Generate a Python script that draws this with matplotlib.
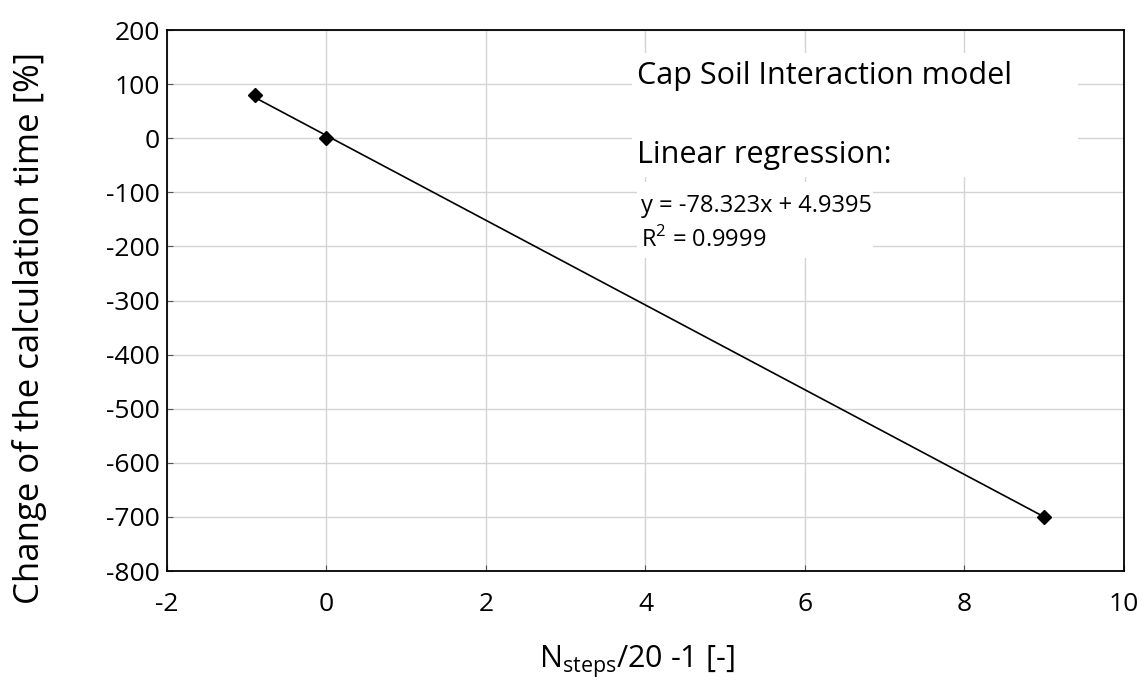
import matplotlib.pyplot as plt
from matplotlib.patches import Rectangle
import numpy as np

# relative change of step count vs. change of calculation time
x_steps = [-0.9, 0.0, 9.0]
time_change = [80.0, 0.0, -699.5]

# regression line coefficients
slope = -78.323
intercept = 4.9395
r2 = 0.9999

plt.rcParams["font.family"] = ["Open Sans", "DejaVu Sans"]
plt.rcParams["axes.unicode_minus"] = False

fig = plt.figure(figsize=(11.42, 6.84), dpi=100)
ax = fig.add_axes([0.1462, 0.1652, 0.8380, 0.7909])

xs = np.array([min(x_steps), max(x_steps)])
ax.plot(xs, slope * xs + intercept, color="black", linewidth=1.2, zorder=3)
ax.plot(x_steps, time_change, linestyle="none", marker="D", markersize=7,
        color="black", zorder=4)

ax.set_xlim(-2, 10)
ax.set_ylim(-800, 200)
ax.set_xticks(np.arange(-2, 11, 2))
ax.set_yticks(np.arange(-800, 201, 100))
ax.grid(True, color="#d4d4d4", linewidth=1)
ax.set_axisbelow(True)
ax.tick_params(direction="in", length=4, color="#555555", labelsize=19)
ax.tick_params(axis="x", pad=15)
ax.tick_params(axis="y", pad=5)
for s in ax.spines.values():
    s.set_linewidth(1.3)

ax.set_xlabel(r"N$_{\mathregular{steps}}$/20 -1 [-]", fontsize=22)
ax.xaxis.set_label_coords(0.491, -0.135)
ax.set_ylabel("Change of the calculation time [%]", fontsize=25)
ax.yaxis.set_label_coords(-0.125, 0.45)

# white boxes behind the annotations
ax.add_patch(Rectangle((3.83, -71.7), 9.42 - 3.83, 157.5 + 71.7,
                       facecolor="white", edgecolor="none", zorder=2))
ax.add_patch(Rectangle((3.9, -221), 6.85 - 3.9, 221 - 81,
                       facecolor="white", edgecolor="none", zorder=2))

ax.text(3.9, 100, "Cap Soil Interaction model", fontsize=22, zorder=5,
        va="baseline")
ax.text(3.9, -45, "Linear regression:", fontsize=22, zorder=5, va="baseline")
ax.text(3.95, -136, f"y = {slope}x + {intercept}", fontsize=17, zorder=5,
        va="baseline")
ax.text(3.95, -200, r"R$^{\mathregular{2}}$ = " + f"{r2}", fontsize=17, zorder=5,
        va="baseline")

fig.savefig("out.png", dpi=100)
